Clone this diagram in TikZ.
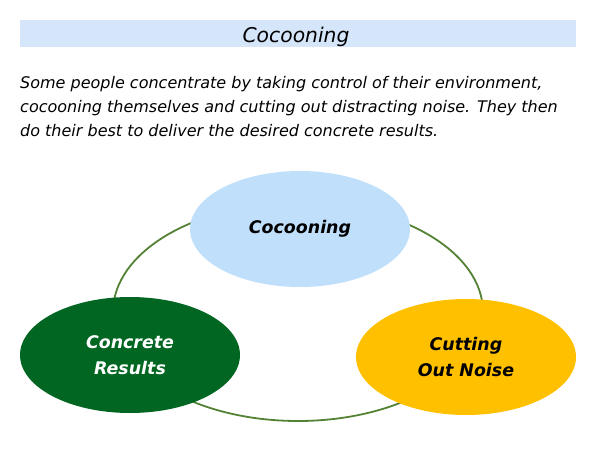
\documentclass[tikz,border=0pt]{standalone}
\usepackage{fontspec}
\setmainfont{DejaVu Sans}
\usetikzlibrary{shapes.geometric}
\definecolor{barblue}{RGB}{214,230,250}
\definecolor{cocblue}{RGB}{191,223,251}
\definecolor{resgreen}{RGB}{0,102,34}
\definecolor{noisegold}{RGB}{255,192,0}
\definecolor{ringgreen}{RGB}{84,130,53}
\tikzstyle{blob}=[ellipse,inner sep=0mm,minimum width=220pt,minimum height=116pt,align=center,font=\fontsize{17.4}{26}\selectfont\bfseries\itshape]
\tikzstyle{ring}=[draw=ringgreen,line width=1.8pt]
\tikzstyle{bodyline}=[anchor=base west,inner sep=0pt,font=\fontsize{16}{24}\selectfont\itshape]

\begin{document}
\begin{tikzpicture}[x=1pt,y=-1pt]
  \useasboundingbox (0,0) rectangle (600,450);
  \node[fill=barblue,minimum width=556pt,minimum height=27pt,inner sep=0pt] (bar) at (298,33.5) {};
  \node[font=\fontsize{20.3}{24}\selectfont\itshape,anchor=base,inner sep=0pt] (title) at (296,42) {Cocooning};
  \node[bodyline] (line1) at (20,88) {Some people concentrate by taking control of their environment,};
  \node[bodyline] (line2) at (20,112) {cocooning themselves and cutting out distracting noise. They then};
  \node[bodyline] (line3) at (20,136) {do their best to deliver the desired concrete results.};
  % ring behind the three ellipses
  \coordinate (hub) at (298,312);
  \draw[ring] (hub) ellipse [x radius=185pt, y radius=109pt];
  \node[blob,fill=cocblue] (coc) at (300,229) {Cocooning};
  \node[blob,fill=resgreen,text=white] (res) at (130,355) {Concrete\\Results};
  \node[blob,fill=noisegold] (noise) at (466,357) {Cutting\\Out Noise};
\end{tikzpicture}
\end{document}
